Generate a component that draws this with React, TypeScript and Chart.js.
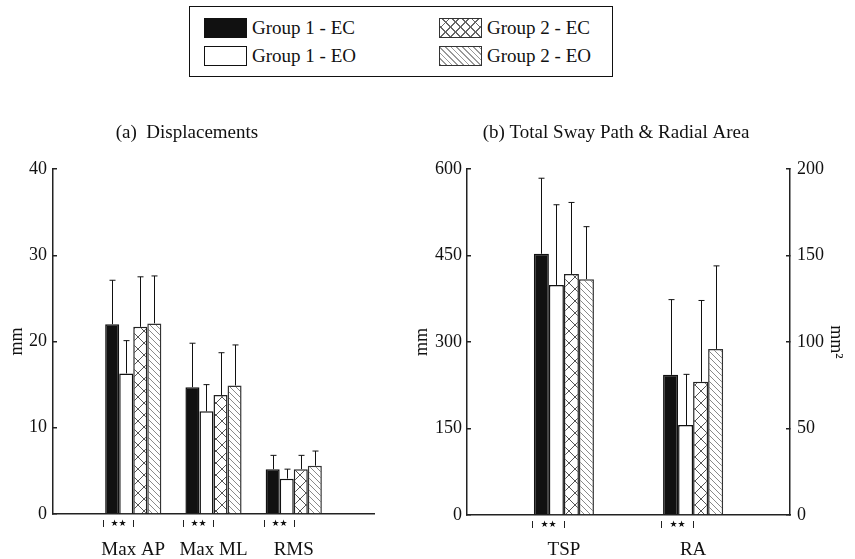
import React, { useEffect, useRef } from 'react';
import { Chart, registerables } from 'chart.js';

Chart.register(...registerables);

const SERIF = '"Liberation Serif", "Times New Roman", serif';

// ---------- data ----------
const groupLabels = ['Group 1 - EC', 'Group 1 - EO', 'Group 2 - EC', 'Group 2 - EO'];

const dispTitle = '(a)  Displacements';
const dispCategories = ['Max AP', 'Max ML', 'RMS'];
const dispG1EC = [22.0, 14.7, 5.2];
const dispG1EO = [16.3, 11.9, 4.1];
const dispG2EC = [21.7, 13.8, 5.2];
const dispG2EO = [22.1, 14.9, 5.6];
const dispSdG1EC = [5.1, 5.1, 1.6];
const dispSdG1EO = [3.8, 3.1, 1.1];
const dispSdG2EC = [5.8, 4.9, 1.6];
const dispSdG2EO = [5.5, 4.7, 1.7];
const dispSignificance = ['**', '**', '**'];
const dispTicks = [0, 10, 20, 30, 40];
const dispUnit = 'mm';

const swayTitle = '(b) Total Sway Path & Radial Area';
const swayCategories = ['TSP', 'RA'];
const tspMeans = [453, 399, 418, 409];
const tspSds = [131, 139, 124, 91];
const raMeans = [81, 52, 77, 96];
const raSds = [43.5, 29.3, 47, 48];
const swaySignificance = ['**', '**'];
const tspTicks = [0, 150, 300, 450, 600];
const raTicks = [0, 50, 100, 150, 200];
const tspUnit = 'mm';
const raUnit = 'mm\u00B2';

// ---------- helpers ----------
function makePattern(kind: 'cross' | 'diag'): CanvasPattern | string {
  const c = document.createElement('canvas');
  const s = kind === 'cross' ? 12 : 6;
  c.width = s;
  c.height = s;
  const g = c.getContext('2d');
  if (!g) return '#fff';
  g.fillStyle = '#fff';
  g.fillRect(0, 0, s, s);
  g.strokeStyle = kind === 'cross' ? '#555' : '#8a8a8a';
  g.lineWidth = 1;
  g.beginPath();
  g.moveTo(-1, -1);
  g.lineTo(s + 1, s + 1);
  g.moveTo(s - 1, -1);
  g.lineTo(s + 1, 1);
  g.moveTo(-1, s - 1);
  g.lineTo(1, s + 1);
  if (kind === 'cross') {
    g.moveTo(s + 1, -1);
    g.lineTo(-1, s + 1);
    g.moveTo(1, -1);
    g.lineTo(-1, 1);
    g.moveTo(s + 1, s - 1);
    g.lineTo(s - 1, s + 1);
  }
  g.stroke();
  return g.createPattern(c, 'repeat') || '#fff';
}

const errorBarPlugin = {
  id: 'errorBars',
  afterDatasetsDraw(chart: any) {
    const ctx = chart.ctx;
    ctx.save();
    ctx.strokeStyle = '#111';
    ctx.lineWidth = 1;
    chart.data.datasets.forEach((ds: any, di: number) => {
      const meta = chart.getDatasetMeta(di);
      const errs = ds.errors;
      if (!errs) return;
      const scale = meta.vScale;
      meta.data.forEach((bar: any, i: number) => {
        const v = ds.data[i];
        const e = errs[i];
        if (v == null || e == null) return;
        const top = scale.getPixelForValue(v + e);
        const x = Math.round(bar.x) + 0.5;
        ctx.beginPath();
        ctx.moveTo(x, bar.y);
        ctx.lineTo(x, top);
        ctx.moveTo(x - 3, top);
        ctx.lineTo(x + 3, top);
        ctx.stroke();
      });
    });
    ctx.restore();
  },
};

function makeSigPlugin(marks: (string | null)[]) {
  return {
    id: 'significance',
    afterDraw(chart: any) {
      const ctx = chart.ctx;
      const yb = chart.chartArea.bottom;
      ctx.save();
      ctx.strokeStyle = '#222';
      ctx.fillStyle = '#111';
      ctx.lineWidth = 1;
      marks.forEach((m, i) => {
        if (!m) return;
        const bars: any[] = [];
        chart.data.datasets.forEach((ds: any, di: number) => {
          if (ds.data[i] != null) bars.push(chart.getDatasetMeta(di).data[i]);
        });
        if (bars.length < 2) return;
        const a = bars[0];
        const b = bars[1];
        const left = Math.round(a.x - a.width / 2) - 1.5;
        const right = Math.round(b.x + b.width / 2) + 0.5;
        ctx.beginPath();
        ctx.moveTo(left, yb + 6);
        ctx.lineTo(left, yb + 13);
        ctx.moveTo(right, yb + 6);
        ctx.lineTo(right, yb + 13);
        ctx.stroke();
        ctx.font = '9px "DejaVu Sans"';
        ctx.textAlign = 'center';
        ctx.textBaseline = 'middle';
        ctx.fillText(m.replace(/\*/g, '\u2605'), (left + right) / 2, yb + 9.5);
      });
      ctx.restore();
    },
  };
}

const tickFont = { family: SERIF, size: 18 };
const labelFont = { family: SERIF, size: 19 };

function yAxis(ticks: number[], unit: string, opts: any) {
  return {
    position: opts.position,
    min: ticks[0],
    max: ticks[ticks.length - 1],
    ticks: {
      stepSize: ticks[1] - ticks[0],
      font: tickFont,
      color: '#111',
      padding: opts.tickPadding,
    },
    grid: {
      display: true,
      drawOnChartArea: false,
      drawTicks: true,
      tickLength: -4,
      color: '#222',
      lineWidth: 1.5,
    },
    border: { display: true, color: '#222', width: 1.5 },
    title: {
      display: true,
      text: unit,
      font: tickFont,
      color: '#111',
      padding: { top: opts.titlePad, bottom: 0 },
    },
    afterFit: (s: any) => {
      s.width = opts.width;
    },
  };
}

function xAxis(offset: boolean, height: number, pad: number) {
  return {
    type: 'category',
    offset,
    grid: { display: false, drawTicks: false },
    border: { display: true, color: '#222', width: 1.5 },
    ticks: {
      font: labelFont,
      color: '#111',
      padding: pad,
      maxRotation: 0,
      autoSkip: false,
    },
    afterFit: (s: any) => {
      s.height = height;
    },
  };
}

function titleOpts(text: string) {
  return {
    display: true,
    text,
    font: { family: SERIF, size: 19, weight: 'normal' as const },
    color: '#111',
    padding: { top: 6.6, bottom: 24.6 },
  };
}

const legendSwatches: React.CSSProperties[] = [
  { background: '#111', border: '1.5px solid #111' },
  { background: '#fff', border: '1.5px solid #111' },
  {
    backgroundColor: '#fff',
    backgroundImage:
      'repeating-linear-gradient(45deg, #666 0 1px, transparent 1px 7px), repeating-linear-gradient(-45deg, #666 0 1px, transparent 1px 7px)',
    border: '1.5px solid #333',
  },
  {
    backgroundColor: '#fff',
    backgroundImage: 'repeating-linear-gradient(45deg, #999 0 1px, #fff 1px 4px)',
    border: '1.5px solid #333',
  },
];

export default function App() {
  const leftRef = useRef<HTMLCanvasElement>(null);
  const rightRef = useRef<HTMLCanvasElement>(null);

  useEffect(() => {
    const cross = makePattern('cross');
    const diag = makePattern('diag');
    const fills: any[] = ['#111', '#fff', cross, diag];
    const borders = ['#111', '#111', '#222', '#333'];

    // ----- left chart -----
    const dispLabels = ['', ...dispCategories, ''];
    const pad = (arr: number[]) => [null, ...arr, null];
    const dispMeans = [dispG1EC, dispG1EO, dispG2EC, dispG2EO];
    const dispSds = [dispSdG1EC, dispSdG1EO, dispSdG2EC, dispSdG2EO];
    const c1 = new Chart(leftRef.current as HTMLCanvasElement, {
      type: 'bar',
      data: {
        labels: dispLabels,
        datasets: groupLabels.map((lab, g) => ({
          label: lab,
          data: pad(dispMeans[g]),
          errors: pad(dispSds[g]),
          backgroundColor: fills[g],
          borderColor: borders[g],
          borderWidth: 1.5,
          categoryPercentage: 0.7,
          barPercentage: 1,
        })) as any,
      },
      options: {
        responsive: false,
        animation: false,
        events: [],
        layout: { padding: { left: 0, right: 70, top: 0, bottom: 0 } },
        plugins: {
          legend: { display: false },
          tooltip: { enabled: false },
          title: titleOpts(dispTitle),
        },
        scales: {
          x: xAxis(false, 45, 24.6),
          y: yAxis(dispTicks, dispUnit, { position: 'left', tickPadding: 10, titlePad: 6.7, width: 53 }),
        } as any,
      },
      plugins: [errorBarPlugin, makeSigPlugin(['', ...dispSignificance, ''])],
    });

    // ----- right chart -----
    const swayLabels = ['', swayCategories[0], '', swayCategories[1], ''];
    const tIdx = swayLabels.indexOf(swayCategories[0]);
    const rIdx = swayLabels.indexOf(swayCategories[1]);
    const at = (idx: number, v: number) => swayLabels.map((_, i) => (i === idx ? v : null));
    const swayMarks = swayLabels.map(() => '' as string);
    swayMarks[tIdx] = swaySignificance[0];
    swayMarks[rIdx] = swaySignificance[1];
    const tspSets = groupLabels.map((lab, g) => ({
      label: lab,
      data: at(tIdx, tspMeans[g]),
      errors: at(tIdx, tspSds[g]),
      yAxisID: 'y',
      backgroundColor: fills[g],
      borderColor: borders[g],
      borderWidth: 1.5,
      skipNull: true,
      categoryPercentage: 0.93,
      barPercentage: 1,
    }));
    const raSets = groupLabels.map((lab, g) => ({
      label: lab,
      data: at(rIdx, raMeans[g]),
      errors: at(rIdx, raSds[g]),
      yAxisID: 'y1',
      backgroundColor: fills[g],
      borderColor: borders[g],
      borderWidth: 1.5,
      skipNull: true,
      categoryPercentage: 0.93,
      barPercentage: 1,
    }));
    const c2 = new Chart(rightRef.current as HTMLCanvasElement, {
      type: 'bar',
      data: {
        labels: swayLabels,
        datasets: [...tspSets, ...raSets] as any,
      },
      options: {
        responsive: false,
        animation: false,
        events: [],
        layout: { padding: 0 },
        plugins: {
          legend: { display: false },
          tooltip: { enabled: false },
          title: titleOpts(swayTitle),
        },
        scales: {
          x: xAxis(true, 44, 23.6),
          y: yAxis(tspTicks, tspUnit, { position: 'left', tickPadding: 9, titlePad: 34.2, width: 90 }),
          y1: yAxis(raTicks, raUnit, { position: 'right', tickPadding: 11, titlePad: 8.2, width: 65 }),
        } as any,
      },
      plugins: [errorBarPlugin, makeSigPlugin(swayMarks)],
    });

    return () => {
      c1.destroy();
      c2.destroy();
    };
  }, []);

  const legendPos = [
    { sx: 204, tx: 252, y: 18 },
    { sx: 204, tx: 252, y: 46 },
    { sx: 439, tx: 487, y: 18 },
    { sx: 439, tx: 487, y: 46 },
  ];

  return (
    <div
      style={{
        position: 'absolute',
        left: 0,
        top: 0,
        width: 855,
        height: 559,
        background: '#fff',
        overflow: 'hidden',
        fontFamily: SERIF,
        color: '#111',
      }}
    >
      <div
        style={{
          position: 'absolute',
          left: 189,
          top: 6,
          width: 424,
          height: 71,
          border: '1.5px solid #111',
          boxSizing: 'border-box',
        }}
      />
      {groupLabels.map((lab, g) => (
        <React.Fragment key={lab}>
          <div
            style={{
              position: 'absolute',
              left: legendPos[g].sx,
              top: legendPos[g].y,
              width: 43,
              height: 20,
              boxSizing: 'border-box',
              ...legendSwatches[g],
            }}
          />
          <div
            style={{
              position: 'absolute',
              left: legendPos[g].tx,
              top: legendPos[g].y,
              height: 20,
              lineHeight: '20px',
              fontSize: 19,
              whiteSpace: 'nowrap',
            }}
          >
            {lab}
          </div>
        </React.Fragment>
      ))}
      <canvas
        ref={leftRef}
        width={444}
        height={444}
        style={{ position: 'absolute', left: 0, top: 115, width: 444, height: 444 }}
      />
      <canvas
        ref={rightRef}
        width={478}
        height={444}
        style={{ position: 'absolute', left: 377, top: 115, width: 478, height: 444 }}
      />
    </div>
  );
}
